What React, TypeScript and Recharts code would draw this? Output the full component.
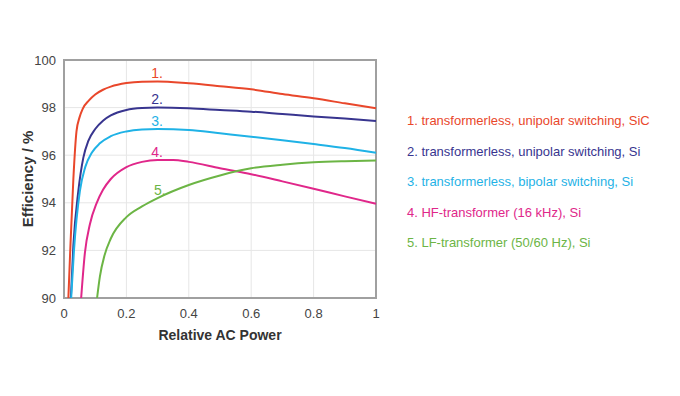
import React from "react";
import {
  LineChart,
  Line,
  XAxis,
  YAxis,
  CartesianGrid,
  ReferenceArea,
  ReferenceDot,
} from "recharts";

const xTicks = [0, 0.2, 0.4, 0.6, 0.8, 1];
const yTicks = [90, 92, 94, 96, 98, 100];

const sicX = [0.014, 0.02, 0.03, 0.04, 0.05, 0.06, 0.08, 0.1, 0.125, 0.15, 0.2, 0.25, 0.3, 0.4, 0.5, 0.6, 0.7, 0.8, 0.9, 1.0];
const sicY = [90, 92, 95, 97.0, 97.6, 97.95, 98.3, 98.55, 98.75, 98.88, 99.03, 99.09, 99.1, 99.02, 98.9, 98.77, 98.57, 98.39, 98.18, 97.97];

const uniX = [0.022, 0.03, 0.046, 0.062, 0.078, 0.1, 0.125, 0.15, 0.2, 0.25, 0.3, 0.4, 0.5, 0.6, 0.7, 0.8, 0.9, 1.0];
const uniY = [90, 92.2, 94.5, 95.9, 96.6, 97.1, 97.45, 97.67, 97.9, 97.98, 98.0, 97.97, 97.9, 97.83, 97.73, 97.63, 97.54, 97.44];

const bipX = [0.023, 0.032, 0.051, 0.068, 0.089, 0.115, 0.15, 0.2, 0.25, 0.3, 0.4, 0.5, 0.6, 0.7, 0.8, 0.9, 1.0];
const bipY = [90, 92.0, 94.5, 95.5, 96.1, 96.5, 96.8, 97.0, 97.08, 97.1, 97.06, 96.92, 96.78, 96.63, 96.47, 96.3, 96.1];

const hfX = [0.055, 0.067, 0.083, 0.105, 0.125, 0.15, 0.2, 0.25, 0.3, 0.35, 0.4, 0.5, 0.6, 0.7, 0.8, 0.9, 1.0];
const hfY = [90, 91.9, 93.1, 94.0, 94.55, 95.0, 95.5, 95.72, 95.8, 95.8, 95.72, 95.45, 95.2, 94.9, 94.59, 94.27, 93.96];

const lfX = [0.106, 0.115, 0.13, 0.15, 0.2, 0.25, 0.3, 0.4, 0.5, 0.6, 0.7, 0.8, 0.9, 1.0];
const lfY = [90, 90.9, 91.8, 92.5, 93.4, 93.85, 94.2, 94.75, 95.15, 95.45, 95.6, 95.7, 95.75, 95.78];

const seriesNames = [
  "1. transformerless, unipolar switching, SiC",
  "2. transformerless, unipolar switching, Si",
  "3. transformerless, bipolar switching, Si",
  "4. HF-transformer (16 kHz), Si",
  "5. LF-transformer (50/60 Hz), Si",
];
const seriesColors = ["#e9472b", "#38358f", "#1fb2e6", "#e0278a", "#6cb545"];
const curveLabels = ["1.", "2.", "3.", "4.", "5."];
const labelX = [0.298, 0.298, 0.298, 0.298, 0.307];
const labelY = [99.45, 98.36, 97.44, 96.13, 94.54];

const toPoints = (xs: number[], ys: number[]) => xs.map((x, i) => ({ x, y: ys[i] }));
const seriesData = [
  toPoints(sicX, sicY),
  toPoints(uniX, uniY),
  toPoints(bipX, bipY),
  toPoints(hfX, hfY),
  toPoints(lfX, lfY),
];

const FONT = "'Liberation Sans', Arial, sans-serif";

export default function App() {
  return (
    <div style={{ position: "relative", width: 664, height: 380, background: "#fff" }}>
      <LineChart
        width={664}
        height={380}
        margin={{ top: 52, right: 296, bottom: 60, left: 16 }}
      >
        <CartesianGrid stroke="#e6e6e6" strokeWidth={1} />
        <XAxis
          type="number"
          dataKey="x"
          domain={[0, 1]}
          ticks={xTicks}
          tickFormatter={(v: number) => String(v)}
          tickLine={false}
          axisLine={false}
          height={30}
          tick={{ fill: "#444", fontSize: 13, fontFamily: FONT }}
          tickMargin={5}
          label={{
            value: "Relative AC Power",
            position: "insideBottom",
            offset: -12,
            style: { fontWeight: "bold", fontSize: 14, fill: "#333", fontFamily: FONT },
          }}
        />
        <YAxis
          type="number"
          domain={[90, 100]}
          ticks={yTicks}
          allowDataOverflow
          tickLine={false}
          axisLine={false}
          width={40}
          tick={{ fill: "#444", fontSize: 13, fontFamily: FONT }}
          tickMargin={2}
          label={{
            value: "Efficiency / %",
            angle: -90,
            position: "insideLeft",
            offset: 4,
            style: { fontWeight: "bold", fontSize: 15, fill: "#333", fontFamily: FONT, textAnchor: "middle" },
          }}
        />
        <ReferenceArea x1={0} x2={1} y1={90} y2={100} fill="none" stroke="#a0a0a0" strokeWidth={2} />
        {seriesData.map((d, i) => (
          <Line
            key={i}
            data={d}
            dataKey="y"
            type="monotone"
            stroke={seriesColors[i]}
            strokeWidth={2}
            dot={false}
            activeDot={false}
            isAnimationActive={false}
            name={seriesNames[i]}
          />
        ))}
        {curveLabels.map((t, i) => (
          <ReferenceDot
            key={t}
            x={labelX[i]}
            y={labelY[i]}
            r={0}
            fill="none"
            stroke="none"
            label={{ value: t, position: "center", fill: seriesColors[i], fontSize: 14, fontFamily: FONT }}
          />
        ))}
      </LineChart>
      <div
        style={{
          position: "absolute",
          left: 399,
          top: 98,
          fontFamily: FONT,
          fontSize: 13,
        }}
      >
        {seriesNames.map((n, i) => (
          <div key={n} style={{ color: seriesColors[i], height: 30.6, lineHeight: "30.6px", whiteSpace: "nowrap" }}>
            {n}
          </div>
        ))}
      </div>
    </div>
  );
}
